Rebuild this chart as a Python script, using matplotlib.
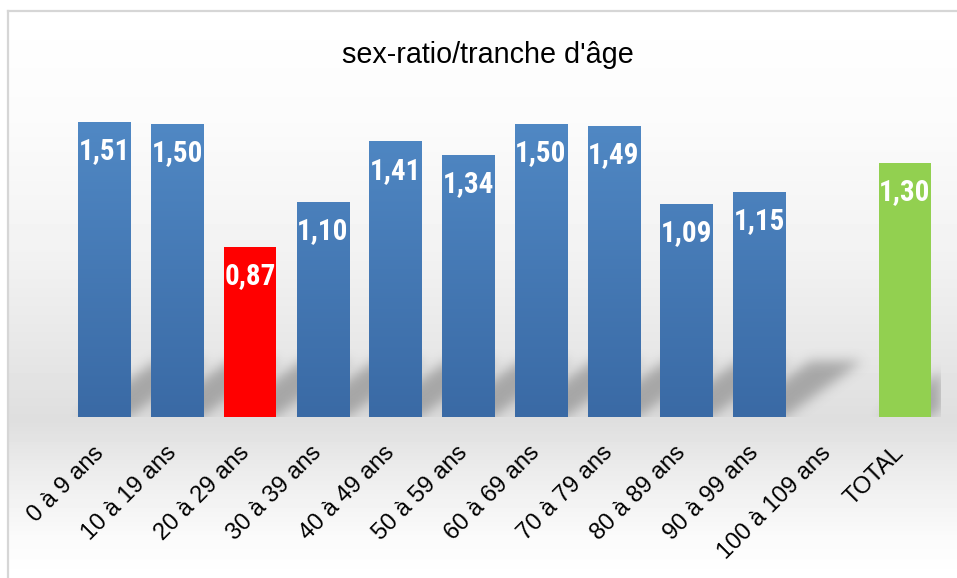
import numpy as np
import matplotlib
matplotlib.use("Agg")
import matplotlib.pyplot as plt
from matplotlib import font_manager
from matplotlib.colors import LinearSegmentedColormap

# data
categories = ["0 à 9 ans", "10 à 19 ans", "20 à 29 ans", "30 à 39 ans", "40 à 49 ans",
              "50 à 59 ans", "60 à 69 ans", "70 à 79 ans", "80 à 89 ans", "90 à 99 ans",
              "100 à 109 ans", "TOTAL"]
sex_ratio = [1.51, 1.50, 0.87, 1.10, 1.41, 1.34, 1.50, 1.49, 1.09, 1.15, np.nan, 1.30]
bar_kind = ["blue"] * 2 + ["red"] + ["blue"] * 8 + ["green"]
title = "sex-ratio/tranche d'âge"

W, H = 957, 578
DPI = 100


def gauss_blur(a, sigma):
    r = int(3 * sigma)
    k = np.exp(-0.5 * (np.arange(-r, r + 1) / sigma) ** 2)
    k /= k.sum()
    a = np.apply_along_axis(lambda m: np.convolve(m, k, mode="same"), 0, a)
    a = np.apply_along_axis(lambda m: np.convolve(m, k, mode="same"), 1, a)
    return a


def pick_narrow_font():
    names = {f.name for f in font_manager.fontManager.ttflist}
    for n in ["Liberation Sans Narrow", "Arial Narrow", "Roboto Condensed",
              "Open Sans Condensed", "DejaVu Sans Condensed"]:
        if n in names:
            return n, 21
    return "Liberation Sans", 17


def main():
    fig = plt.figure(figsize=(W / DPI, H / DPI), dpi=DPI)

    # background gradient inside the chart frame
    bg = fig.add_axes([8 / W, 0, 1 - 8 / W, (H - 11) / H], zorder=-10)
    ys = np.array([11, 120, 250, 330, 420, 470, 540, 578])
    gs = np.array([1.0, 0.985, 0.95, 0.915, 0.872, 0.925, 0.985, 1.0])
    rows = np.interp(np.arange(11, H), ys, gs)
    bg.imshow(np.repeat(rows[:, None], 2, axis=1), cmap="gray", vmin=0, vmax=1,
              aspect="auto", extent=[0, 1, 0, 1], interpolation="nearest")
    bg.axis("off")
    fig.add_artist(plt.Line2D([8 / W, 8 / W], [0, (H - 11) / H], color="#d6d6d6", lw=1.6))
    fig.add_artist(plt.Line2D([8 / W, 1], [(H - 11) / H, (H - 11) / H], color="#d6d6d6", lw=1.6))

    # plot area
    left_px, right_px, base_px, top_px = 68, 941, 417, 100
    ax = fig.add_axes([left_px / W, (H - base_px) / H, (right_px - left_px) / W,
                       (base_px - top_px) / H])
    ax.patch.set_alpha(0)
    ymax = 1.622
    x = np.arange(len(categories))
    ax.set_xlim(-0.5, len(categories) - 0.5)
    ax.set_ylim(0, ymax)
    bw = 0.716

    # soft diagonal shadows behind the bars (only the lower strip of the plot)
    pw = right_px - left_px
    sx, sy = 76, 55
    ph = 100
    xx, yy = np.meshgrid(np.arange(pw), np.arange(ph))
    h = ph - 1 - yy
    mask = np.zeros((ph, pw))
    upp = pw / len(categories)
    for i, v in enumerate(sex_ratio):
        if np.isnan(v):
            continue
        x0 = (x[i] + 0.5 - bw / 2) * upp
        x1 = (x[i] + 0.5 + bw / 2) * upp
        shift = h * sx / sy
        inside = (h <= sy) & (xx >= x0 + shift) & (xx <= x1 + shift)
        mask[inside] = 1
    mask = gauss_blur(np.pad(mask, 30), 6)[30:-30, 30:-30]
    shadow = np.zeros((ph, pw, 4))
    shadow[..., :3] = 0.3
    shadow[..., 3] = 0.4 * mask
    px_unit = (base_px - top_px) / ymax
    ax.imshow(shadow, extent=[-0.5, len(categories) - 0.5, 0, ph / px_unit], aspect="auto",
              zorder=1, interpolation="bilinear")

    blue_cmap = LinearSegmentedColormap.from_list("b", ["#3a6aa5", "#5088c4"])
    colors = {"red": "#ff0000", "green": "#92d050"}
    grad = np.linspace(0, 1, 100)[:, None]
    vfont, vsize = pick_narrow_font()
    for i, v in enumerate(sex_ratio):
        if np.isnan(v):
            continue
        if bar_kind[i] == "blue":
            bar = ax.bar(x[i], v, bw, color="#4679b5", zorder=2)[0]
            top_frac = v / 1.51
            im = ax.imshow(grad * top_frac, cmap=blue_cmap, vmin=0, vmax=1, origin="lower",
                           extent=[x[i] - bw / 2, x[i] + bw / 2, 0, v], aspect="auto", zorder=3)
            im.set_clip_path(bar)
        else:
            ax.bar(x[i], v, bw, color=colors[bar_kind[i]], zorder=2)
        ax.annotate(f"{v:.2f}".replace(".", ","), (x[i], v), xytext=(0, -21),
                    textcoords="offset points", ha="center", va="center", color="white",
                    fontsize=vsize, fontweight="bold", family=vfont, zorder=4)

    ax.set_xlim(-0.5, len(categories) - 0.5)
    ax.set_ylim(0, ymax)
    ax.set_yticks([])
    ax.set_xticks(x)
    ax.set_xticklabels(categories, rotation=45, ha="right", va="baseline",
                       rotation_mode="anchor", fontsize=17, family="Liberation Sans")
    ax.tick_params(axis="x", length=0, pad=26.6)
    for s in ax.spines.values():
        s.set_visible(False)

    fig.text(487.5 / W, (H - 63) / H, title, ha="center", va="baseline",
             fontsize=20.7, family="Liberation Sans")

    fig.savefig("out.png", dpi=DPI)


if __name__ == "__main__":
    main()
